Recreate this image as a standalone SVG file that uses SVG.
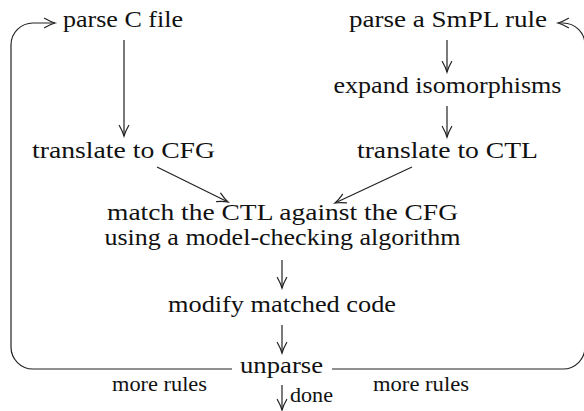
<svg xmlns="http://www.w3.org/2000/svg" width="584" height="411" viewBox="0 0 584 411">
<style>
.t{font-family:'Liberation Serif','DejaVu Serif','Times New Roman',serif;fill:#111}
.n{font-size:24px}
.s{font-size:20px}
.c{text-anchor:middle}
.e{fill:none;stroke:#222;stroke-width:1.2}
</style>
<defs>
<marker id="ah" markerUnits="userSpaceOnUse" markerWidth="14" markerHeight="14" refX="12" refY="7" orient="auto" overflow="visible">
<path d="M1.5,2.3 C5,4.3 9,6.2 12,7 C9,7.8 5,9.7 1.5,11.7" fill="none" stroke="#222" stroke-width="1.2" stroke-linecap="round"/>
</marker>
</defs>
<rect width="584" height="411" fill="#fff"/>
<g id="connectors" font-family="Liberation Serif, DejaVu Serif, serif">
<path class="e" d="M124,40 V136" marker-end="url(#ah)"/>
<path class="e" d="M447,40 V72" marker-end="url(#ah)"/>
<path class="e" d="M447,106 V137" marker-end="url(#ah)"/>
<path class="e" d="M157,167 L228,202" marker-end="url(#ah)"/>
<path class="e" d="M412,167 L335,203" marker-end="url(#ah)"/>
<path class="e" d="M282,260 V288" marker-end="url(#ah)"/>
<path class="e" d="M282,325 V353" marker-end="url(#ah)"/>
<path class="e" d="M282,385 V410" marker-end="url(#ah)"/>
<path class="e" d="M232,369 H33 A22,22 0 0 1 11,347 V45 A22,22 0 0 1 33,23 H55" marker-end="url(#ah)"/>
<path class="e" d="M332,369 H563 A22,22 0 0 0 585,347 V45 A22,22 0 0 0 563,23 H558" marker-end="url(#ah)"/>
<text class="t s" x="112" y="391" textLength="95" lengthAdjust="spacingAndGlyphs">more rules</text>
<text class="t s" x="373" y="391" textLength="96" lengthAdjust="spacingAndGlyphs">more rules</text>
<text class="t s" x="290" y="402" textLength="43" lengthAdjust="spacingAndGlyphs">done</text>
</g>
<g id="nodes" font-family="Liberation Serif, DejaVu Serif, serif">
<g id="parseC"><text class="t n c" x="123" y="27" textLength="120" lengthAdjust="spacingAndGlyphs">parse C file</text></g>
<g id="parseSmPL"><text class="t n c" x="448" y="27" textLength="198" lengthAdjust="spacingAndGlyphs">parse a SmPL rule</text></g>
<g id="expand"><text class="t n c" x="447.5" y="93" textLength="228" lengthAdjust="spacingAndGlyphs">expand isomorphisms</text></g>
<g id="toCFG"><text class="t n c" x="123.5" y="158" textLength="183" lengthAdjust="spacingAndGlyphs">translate to CFG</text></g>
<g id="toCTL"><text class="t n c" x="447.5" y="158" textLength="181" lengthAdjust="spacingAndGlyphs">translate to CTL</text></g>
<g id="match">
<text class="t n c" x="282.5" y="220" textLength="351" lengthAdjust="spacingAndGlyphs">match the CTL against the CFG</text>
<text class="t n c" x="282.5" y="245" textLength="356" lengthAdjust="spacingAndGlyphs">using a model-checking algorithm</text>
</g>
<g id="modify"><text class="t n c" x="282" y="312" textLength="228" lengthAdjust="spacingAndGlyphs">modify matched code</text></g>
<g id="unparse"><text class="t n c" x="281.5" y="373" textLength="83" lengthAdjust="spacingAndGlyphs">unparse</text></g>
</g>
</svg>
